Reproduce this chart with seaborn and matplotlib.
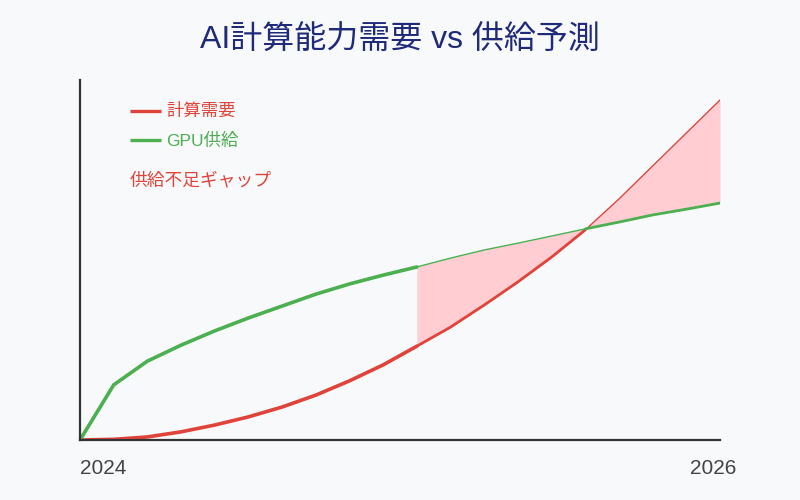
import pandas as pd
import matplotlib
matplotlib.use("Agg")
import matplotlib.pyplot as plt
import seaborn as sns

# 20 points, 2024 -> 2026
period = list(range(20))
demand = [0, 0.2, 0.9, 2.4, 4.4, 6.8, 9.7, 13.2, 17.4, 22.1,
          27.6, 33.2, 39.7, 46.5, 53.8, 61.8, 70.9, 80.6, 90.3, 100]
supply = [0, 16.2, 23.2, 27.9, 32.1, 35.9, 39.4, 42.9, 45.9, 48.5,
          50.9, 53.5, 55.9, 57.9, 60.0, 62.1, 64.1, 66.2, 67.9, 69.7]
gap_start = 10
cross_at = 15
year_labels = ["2024", "2026"]

title = "AI計算能力需要 vs 供給予測"
demand_name = "計算需要"
supply_name = "GPU供給"
gap_name = "供給不足ギャップ"

red = "#e0433a"
green = "#4caf50"
pink = "#ffcdd2"
bg = "#f8f9fa"
axis_col = "#333333"

sns.set_style("white")
plt.rcParams["font.family"] = ["Liberation Sans", "Noto Sans CJK JP", "DejaVu Sans"]

df = pd.DataFrame({
    "period": period * 2,
    "value": demand + supply,
    "series": [demand_name] * len(period) + [supply_name] * len(period),
})
pal = {demand_name: red, supply_name: green}

fig = plt.figure(figsize=(8, 5), dpi=100, facecolor=bg)
ax = fig.add_axes([0.1, 0.12, 0.8, 0.72])
ax.set_facecolor(bg)

ax.fill_between(period[gap_start:], demand[gap_start:], supply[gap_start:],
                color=pink, linewidth=0, zorder=1)

# thick lines up to the gap start
head = df[df["period"] <= gap_start]
sns.lineplot(data=head, x="period", y="value", hue="series", palette=pal,
             linewidth=2.6, ax=ax, legend=False, zorder=2)

# inside the gap the upper line is thin, the lower one thicker
mid = df[(df["period"] >= gap_start) & (df["period"] <= cross_at)]
tail = df[df["period"] >= cross_at]
for part, thin_name in [(mid, supply_name), (tail, demand_name)]:
    for name in [demand_name, supply_name]:
        sub = part[part["series"] == name]
        sns.lineplot(data=sub, x="period", y="value", color=pal[name],
                     linewidth=1.0 if name == thin_name else 2.0,
                     ax=ax, legend=False, zorder=2)

ax.set_xlim(0, 19)
ax.set_ylim(0, 105.9)
ax.set_xticks([])
ax.set_yticks([])
ax.set_xlabel("")
ax.set_ylabel("")
for side in ["top", "right"]:
    ax.spines[side].set_visible(False)
for side in ["left", "bottom"]:
    ax.spines[side].set_color(axis_col)
    ax.spines[side].set_linewidth(1.6)

# x labels at the two ends
ax.annotate(year_labels[0], xy=(period[0], 0), xycoords=("data", "axes fraction"),
            xytext=(0, -28), textcoords="offset pixels", ha="left", va="center",
            fontsize=15, color="#444444")
ax.annotate(year_labels[1], xy=(period[-1], 0), xycoords=("data", "axes fraction"),
            xytext=(-7, -28), textcoords="offset pixels", ha="center", va="center",
            fontsize=15, color="#444444")

# legend drawn by hand
for i, (name, col) in enumerate([(demand_name, red), (supply_name, green)]):
    y = 0.915 - i * 0.083
    ax.plot([0.078, 0.127], [y, y], transform=ax.transAxes, color=col,
            linewidth=2.4, solid_capstyle="butt", clip_on=False)
    ax.text(0.135, y, name, transform=ax.transAxes, color=col,
            fontsize=12.5, va="center", ha="left")
ax.text(0.078, 0.72, gap_name, transform=ax.transAxes, color=red,
        fontsize=12.8, va="center", ha="left")

fig.text(0.5, 0.918, title, ha="center", va="center", fontsize=23, color="#1f2a7a")

fig.savefig("out.png", dpi=100, facecolor=bg)
